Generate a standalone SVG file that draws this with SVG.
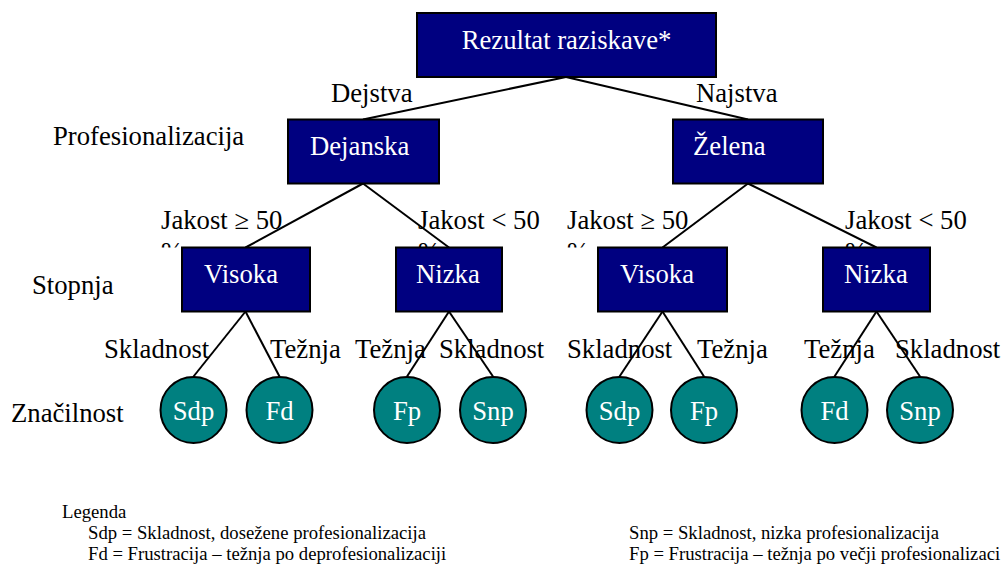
<svg xmlns="http://www.w3.org/2000/svg" width="1001" height="565" viewBox="0 0 1001 565">
  <style>
    .lbl { font-family: "Liberation Serif", "Times New Roman", serif; font-size: 26.7px; fill: #000; }
    .box { fill: #000080; stroke: #000; stroke-width: 2; }
    .leaf { fill: #008080; stroke: #000; stroke-width: 2; }
    .in { font-family: "Liberation Serif", "Times New Roman", serif; font-size: 26.7px; fill: #fff; }
    .mid { text-anchor: middle; }
    .edge { stroke: #000; stroke-width: 2; fill: none; }
    .leg { font-family: "Liberation Serif", "Times New Roman", serif; font-size: 18.7px; fill: #000; }
  </style>
  <defs>
    <!-- the wrapped second line of the strength labels is cut off by its text frame -->
    <clipPath id="frame">
      <rect x="0" y="200" width="1001" height="47.5"/>
    </clipPath>
  </defs>

  <!-- level captions -->
  <g id="captions">
    <text class="lbl" x="53" y="145">Profesionalizacija</text>
    <text class="lbl" x="32" y="294">Stopnja</text>
    <text class="lbl" x="11" y="422">Značilnost</text>
  </g>

  <!-- edge labels -->
  <g id="edge-labels">
    <text class="lbl" x="331" y="102">Dejstva</text>
    <text class="lbl" x="696" y="102">Najstva</text>

    <text class="lbl" x="161" y="229">Jakost ≥ 50</text>
    <text class="lbl" x="418" y="229">Jakost &lt; 50</text>
    <text class="lbl" x="567" y="229">Jakost ≥ 50</text>
    <text class="lbl" x="845" y="229">Jakost &lt; 50</text>
    <g clip-path="url(#frame)">
      <text class="lbl" x="161" y="261">%</text>
      <text class="lbl" x="418" y="261">%</text>
      <text class="lbl" x="567" y="261">%</text>
      <text class="lbl" x="845" y="261">%</text>
    </g>

    <text class="lbl" x="104" y="358">Skladnost</text>
    <text class="lbl" x="270" y="358">Težnja</text>
    <text class="lbl" x="355" y="358">Težnja</text>
    <text class="lbl" x="439" y="358">Skladnost</text>
    <text class="lbl" x="567" y="358">Skladnost</text>
    <text class="lbl" x="697" y="358">Težnja</text>
    <text class="lbl" x="804" y="358">Težnja</text>
    <text class="lbl" x="895" y="358">Skladnost</text>
  </g>

  <!-- connectors -->
  <g id="connectors" class="edge">
    <line x1="566" y1="77" x2="363" y2="119.5"/>
    <line x1="566" y1="77" x2="748" y2="119.5"/>

    <line x1="363" y1="183.5" x2="245.5" y2="247.5"/>
    <line x1="363" y1="183.5" x2="449" y2="247.5"/>
    <line x1="748" y1="183.5" x2="662.5" y2="247.5"/>
    <line x1="748" y1="183.5" x2="876.5" y2="247.5"/>

    <line x1="245.5" y1="311.5" x2="193.5" y2="376.5"/>
    <line x1="245.5" y1="311.5" x2="279.5" y2="376.5"/>
    <line x1="449" y1="311.5" x2="407" y2="376.5"/>
    <line x1="449" y1="311.5" x2="493" y2="376.5"/>
    <line x1="662.5" y1="311.5" x2="619.5" y2="376.5"/>
    <line x1="662.5" y1="311.5" x2="704" y2="376.5"/>
    <line x1="876.5" y1="311.5" x2="834.5" y2="376.5"/>
    <line x1="876.5" y1="311.5" x2="920" y2="376.5"/>
  </g>

  <!-- root -->
  <g id="root">
    <rect class="box" x="417" y="13" width="299" height="64"/>
    <text class="in mid" x="566.5" y="49">Rezultat raziskave*</text>
  </g>

  <!-- professionalisation -->
  <g id="dejanska">
    <rect class="box" x="288" y="119.5" width="151" height="64"/>
    <text class="in" x="310" y="155">Dejanska</text>
  </g>
  <g id="zelena">
    <rect class="box" x="673" y="119.5" width="150" height="64"/>
    <text class="in" x="693" y="155">Želena</text>
  </g>

  <!-- degree -->
  <g id="visoka-1">
    <rect class="box" x="182" y="247.5" width="128" height="64"/>
    <text class="in" x="204" y="283">Visoka</text>
  </g>
  <g id="nizka-1">
    <rect class="box" x="396" y="247.5" width="106" height="64"/>
    <text class="in" x="416" y="283">Nizka</text>
  </g>
  <g id="visoka-2">
    <rect class="box" x="598" y="247.5" width="129" height="64"/>
    <text class="in" x="620" y="283">Visoka</text>
  </g>
  <g id="nizka-2">
    <rect class="box" x="823" y="247.5" width="107" height="64"/>
    <text class="in" x="844" y="283">Nizka</text>
  </g>

  <!-- outcomes -->
  <g id="sdp-1">
    <circle class="leaf" cx="193.5" cy="410" r="33"/>
    <text class="in mid" x="193.5" y="420">Sdp</text>
  </g>
  <g id="fd-1">
    <circle class="leaf" cx="279.5" cy="410" r="33"/>
    <text class="in mid" x="279.5" y="420">Fd</text>
  </g>
  <g id="fp-1">
    <circle class="leaf" cx="407" cy="410" r="33"/>
    <text class="in mid" x="407" y="420">Fp</text>
  </g>
  <g id="snp-1">
    <circle class="leaf" cx="493" cy="410" r="33"/>
    <text class="in mid" x="493" y="420">Snp</text>
  </g>
  <g id="sdp-2">
    <circle class="leaf" cx="619.5" cy="410" r="33"/>
    <text class="in mid" x="619.5" y="420">Sdp</text>
  </g>
  <g id="fp-2">
    <circle class="leaf" cx="704" cy="410" r="33"/>
    <text class="in mid" x="704" y="420">Fp</text>
  </g>
  <g id="fd-2">
    <circle class="leaf" cx="834.5" cy="410" r="33"/>
    <text class="in mid" x="834.5" y="420">Fd</text>
  </g>
  <g id="snp-2">
    <circle class="leaf" cx="920" cy="410" r="33"/>
    <text class="in mid" x="920" y="420">Snp</text>
  </g>

  <!-- legend -->
  <g id="legend">
    <text class="leg" x="62" y="518">Legenda</text>
    <text class="leg" x="88" y="539">Sdp = Skladnost, dosežene profesionalizacija</text>
    <text class="leg" x="88" y="560">Fd = Frustracija – težnja po deprofesionalizaciji</text>
    <text class="leg" x="629" y="539">Snp = Skladnost, nizka profesionalizacija</text>
    <text class="leg" x="629" y="560">Fp = Frustracija – težnja po večji profesionalizaci</text>
  </g>
</svg>
